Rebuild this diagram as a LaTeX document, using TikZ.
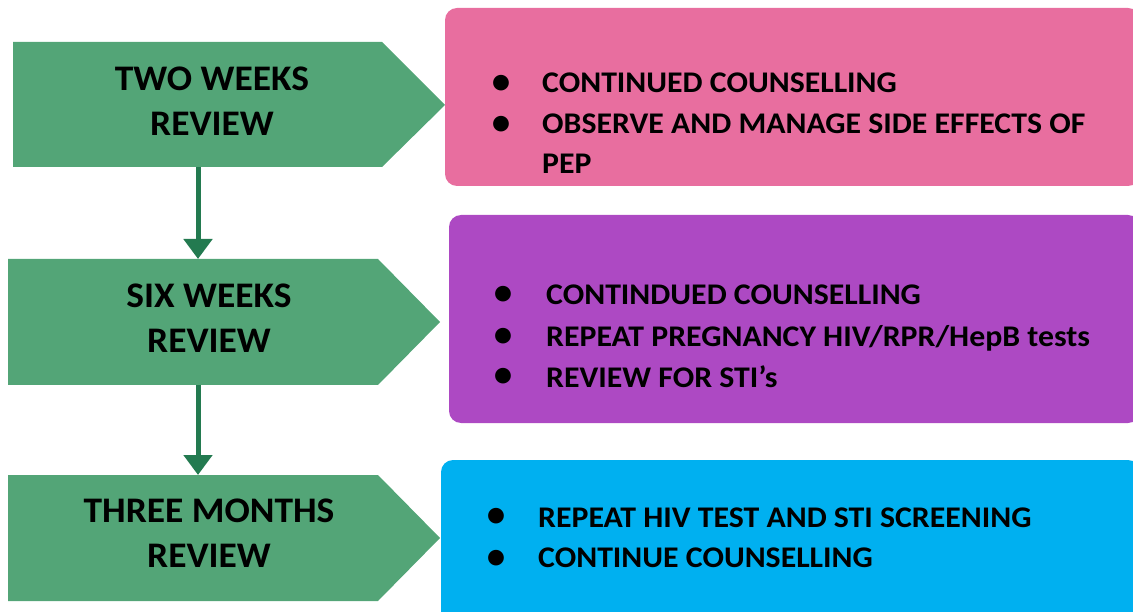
\documentclass[tikz,border=0pt]{standalone}
\usepackage{fontspec}
\setmainfont{Carlito}
\usetikzlibrary{arrows.meta}
\definecolor{stepgreen}{HTML}{53A577}
\definecolor{arrowgreen}{HTML}{237A50}
\definecolor{pinkbox}{HTML}{E86E9F}
\definecolor{purplebox}{HTML}{AD49C3}
\definecolor{bluebox}{HTML}{00B0F0}
\begin{document}
\begin{tikzpicture}[x=1pt,y=-1pt,
  steplabel/.style={align=center,font=\bfseries\fontsize{36}{45}\selectfont\addfontfeatures{FakeStretch=1.04},inner sep=0pt},
  itemtext/.style={anchor=base west,font=\bfseries\fontsize{30}{34}\selectfont\addfontfeatures{FakeStretch=1.06},inner sep=0pt},
  bulletmark/.style={font=\bfseries\fontsize{37}{40}\selectfont,inner sep=0pt},
  flowarrow/.style={draw=arrowgreen,line width=5pt,-{Triangle[width=28pt,length=20pt]}}]
\useasboundingbox (0,0) rectangle (1133,612);
\clip (0,0) rectangle (1133,612);
% right boxes
\fill[pinkbox,rounded corners=12pt] (445,8) rectangle (1140,186);
\fill[purplebox,rounded corners=12pt] (449,215) rectangle (1140,423);
\fill[bluebox,rounded corners=12pt] (441,460) rectangle (1140,640);
% green pentagons
\fill[stepgreen] (13,42) -- (382,42) -- (445,105) -- (382,167) -- (13,167) -- cycle;
\fill[stepgreen] (8,259) -- (378,259) -- (440,322) -- (378,385) -- (8,385) -- cycle;
\fill[stepgreen] (8,475) -- (378,475) -- (440,538) -- (378,601) -- (8,601) -- cycle;
\coordinate (s1b) at (198,167);
\coordinate (s2t) at (198,259);
\coordinate (s2b) at (198,385);
\coordinate (s3t) at (198,475);
\draw[flowarrow] (s1b) -- (s2t);
\draw[flowarrow] (s2b) -- (s3t);
% step labels
\node[steplabel] (l1) at (212,101) {TWO WEEKS\\REVIEW};
\node[steplabel] (l2) at (209,318) {SIX WEEKS\\REVIEW};
\node[steplabel] (l3) at (209,533) {THREE MONTHS\\REVIEW};
% pink items
\node[bulletmark] (b11) at (501,84) {\textbullet};
\node[itemtext] (t11) at (542,93) {CONTINUED COUNSELLING};
\node[bulletmark] (b12) at (501,125) {\textbullet};
\node[itemtext] (t12) at (542,134) {OBSERVE AND MANAGE SIDE EFFECTS OF};
\node[itemtext] (t13) at (542,174) {PEP};
% purple items
\node[bulletmark] (b21) at (503,295) {\textbullet};
\node[itemtext] (t21) at (546,305) {CONTINDUED COUNSELLING};
\node[bulletmark] (b22) at (503,337) {\textbullet};
\node[itemtext] (t22) at (546,347) {REPEAT PREGNANCY HIV/RPR/HepB tests};
\node[bulletmark] (b23) at (503,377) {\textbullet};
\node[itemtext] (t23) at (546,388) {REVIEW FOR STI’s};
% blue items
\node[bulletmark] (b31) at (496,517) {\textbullet};
\node[itemtext] (t31) at (538,527) {REPEAT HIV TEST AND STI SCREENING};
\node[bulletmark] (b32) at (496,559) {\textbullet};
\node[itemtext] (t32) at (538,567) {CONTINUE COUNSELLING};
\end{tikzpicture}
\end{document}
